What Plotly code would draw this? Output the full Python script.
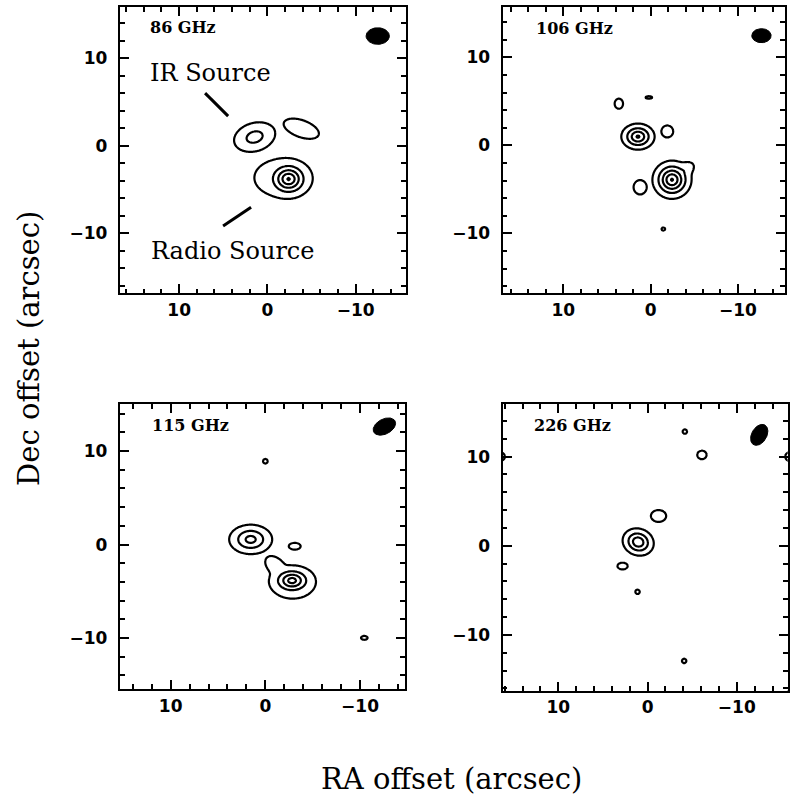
import numpy as np
import plotly.graph_objects as go

# ---------------------------------------------------------------------------
# Source models (arcsec offsets from the phase centre).
# Each entry: (peak, RA offset, Dec offset, scale_major, scale_minor, PA deg)
# Contour levels are 1, 2, 3, ... in units of the lowest contour.
# ---------------------------------------------------------------------------
FREQS = ["86 GHz", "106 GHz", "115 GHz", "226 GHz"]

SOURCES_86 = [
    (2.50, 1.45, 1.00, 1.59, 1.07, -17),    # IR source
    (1.70, -3.85, 1.95, 2.00, 0.93, 20),    # western knot
    (5.10, -2.40, -3.80, 1.09, 0.95, 0),    # radio source core
    (1.70, -1.70, -3.66, 3.05, 2.05, 0),    # radio source envelope
]
SOURCES_106 = [
    (1.70, 3.64, 4.74, 0.46, 0.55, 0),
    (1.30, 0.20, 5.45, 0.58, 0.22, 0),
    (4.15, 1.45, 1.00, 0.95, 0.74, 0),      # IR source
    (1.70, -1.91, 1.59, 0.65, 0.65, 0),
    (5.10, -2.45, -3.90, 1.02, 0.99, 0),    # radio source core
    (1.70, -3.95, -2.75, 1.05, 0.68, 147),  # radio source extension
    (1.70, 1.20, -4.75, 0.72, 0.78, 0),
    (1.20, -1.46, -9.50, 0.40, 0.34, 0),
]
SOURCES_115 = [
    (1.20, 0.00, 8.91, 0.48, 0.48, 0),
    (3.45, 1.55, 0.55, 1.24, 0.86, 0),      # IR source
    (1.70, -3.10, -0.18, 0.60, 0.35, 0),
    (4.50, -2.82, -3.85, 1.04, 0.70, 0),    # radio source core
    (1.70, -2.90, -4.10, 2.20, 1.60, 0),    # radio source envelope
    (1.70, -1.00, -2.20, 1.10, 0.75, 42),   # north-east lobe
    (1.30, -10.45, -9.98, 0.53, 0.32, 0),
]
SOURCES_226 = [
    (1.20, -4.18, 12.81, 0.48, 0.48, 0),
    (1.70, -6.09, 10.19, 0.50, 0.46, 0),
    (1.70, -1.23, 3.34, 0.82, 0.64, 0),
    (3.90, 1.05, 0.42, 0.91, 0.77, 20),     # IR source
    (1.70, 2.80, -2.28, 0.55, 0.36, 0),
    (1.20, 1.12, -5.17, 0.48, 0.48, 0),
    (1.20, -4.10, -12.92, 0.48, 0.48, 0),
    (1.70, 16.50, 10.00, 0.50, 0.45, 0),
    (1.70, -16.00, 10.00, 0.55, 0.50, 0),
    (1.70, -16.50, -16.90, 0.90, 0.90, 0),
]
SOURCES = [SOURCES_86, SOURCES_106, SOURCES_115, SOURCES_226]

# Synthesised beams: centre, semi-major, semi-minor (arcsec), PA (deg)
BEAM_X = [-12.50, -12.70, -12.57, -12.51]
BEAM_Y = [12.54, 12.47, 12.62, 12.44]
BEAM_MAJ = [1.32, 1.11, 1.27, 1.27]
BEAM_MIN = [0.95, 0.80, 0.80, 0.84]
BEAM_PA = [0, 0, 152, 120]

# Panel geometry (paper fractions) and axis ranges (arcsec)
X_DOMAINS = [[0.1519, 0.5139], [0.6363, 0.9937], [0.1519, 0.5127], [0.6363, 0.9971]]
Y_DOMAINS = [[0.6325, 0.9909], [0.6325, 0.9909], [0.1366, 0.4937], [0.1345, 0.4937]]
X_RANGES = [[16.7, -15.7], [16.95, -15.4], [15.35, -14.75], [16.23, -15.7]]
Y_RANGES = [[-16.86, 15.83], [-16.8, 15.7], [-15.45, 15.03], [-16.26, 15.9]]
LABEL_POS = [(13.5, 13.5), (13.38, 13.26), (12.14, 12.73), (12.89, 13.45)]

# Annotated sources in the 86 GHz panel
NOTE_TEXT = ["IR Source", "Radio Source"]
NOTE_POS = [(13.5, 8.31), (13.4, -12.03)]
POINTER_X0 = [7.06, 5.02]
POINTER_Y0 = [6.02, -9.18]
POINTER_X1 = [4.45, 1.85]
POINTER_Y1 = [3.39, -7.03]

LEVELS = dict(start=1, end=5, size=1)
GRID = np.arange(-18.0, 18.0001, 0.1)
PROFILE_INDEX = 1.5   # radial fall-off exponent of each component


def sky_map(sources, xs, ys, p=4.0, q=PROFILE_INDEX):
    X, Y = np.meshgrid(xs, ys)
    acc = np.zeros_like(X)
    for amp, x0, y0, smaj, smin, pa in sources:
        t = np.radians(pa)
        dx, dy = X - x0, Y - y0
        u = dx * np.cos(t) + dy * np.sin(t)
        v = -dx * np.sin(t) + dy * np.cos(t)
        r = np.sqrt((u / smaj) ** 2 + (v / smin) ** 2)
        g = amp * np.exp(-0.5 * r ** q)
        acc += g ** p
    return acc ** (1.0 / p)


def beam_outline(x0, y0, a, b, pa, n=90):
    t = np.linspace(0, 2 * np.pi, n)
    c, s = np.cos(np.radians(pa)), np.sin(np.radians(pa))
    x = x0 + a * np.cos(t) * c - b * np.sin(t) * s
    y = y0 + a * np.cos(t) * s + b * np.sin(t) * c
    return x, y


fig = go.Figure()

for i in range(4):
    suffix = "" if i == 0 else str(i + 1)
    xa, ya = "x" + suffix, "y" + suffix
    z = sky_map(SOURCES[i], GRID, GRID).astype(np.float32)
    fig.add_trace(go.Contour(
        x=GRID, y=GRID, z=z, xaxis=xa, yaxis=ya,
        contours=dict(coloring="lines", **LEVELS),
        colorscale=[[0, "black"], [1, "black"]],
        showscale=False, line=dict(width=2.2, smoothing=1.0),
        hoverinfo="skip",
    ))
    bx, by = beam_outline(BEAM_X[i], BEAM_Y[i], BEAM_MAJ[i], BEAM_MIN[i], BEAM_PA[i])
    fig.add_trace(go.Scatter(
        x=bx, y=by, xaxis=xa, yaxis=ya, mode="lines", fill="toself",
        fillcolor="black", line=dict(color="black", width=1),
        hoverinfo="skip", showlegend=False,
    ))

    common = dict(
        showline=True, linewidth=2.3, linecolor="black", mirror="allticks",
        ticks="inside", ticklen=9, tickwidth=2, tickcolor="black",
        tick0=0, dtick=10, showgrid=False, zeroline=False,
        minor=dict(ticks="inside", tick0=0, dtick=2, ticklen=4.5,
                   tickwidth=2, tickcolor="black", showgrid=False),
        tickfont=dict(family="DejaVu Sans", size=17, color="black", weight="bold"),
    )
    fig.layout["xaxis" + suffix] = dict(common, domain=X_DOMAINS[i], range=X_RANGES[i],
                                        anchor=ya, ticklabelstandoff=0)
    fig.layout["yaxis" + suffix] = dict(common, domain=Y_DOMAINS[i], range=Y_RANGES[i],
                                        anchor=xa, ticklabelstandoff=7)

    fig.add_annotation(
        x=LABEL_POS[i][0], y=LABEL_POS[i][1], xref=xa, yref=ya,
        text=FREQS[i], showarrow=False, xanchor="left", yanchor="middle",
        font=dict(family="DejaVu Serif", size=16, color="black", weight="bold"),
    )

for txt, (tx, ty) in zip(NOTE_TEXT, NOTE_POS):
    fig.add_annotation(
        x=tx, y=ty, xref="x", yref="y", text=txt, showarrow=False,
        xanchor="left", yanchor="middle",
        font=dict(family="DejaVu Serif", size=24, color="black"),
    )
for x0, y0, x1, y1 in zip(POINTER_X0, POINTER_Y0, POINTER_X1, POINTER_Y1):
    fig.add_shape(type="line", x0=x0, y0=y0, x1=x1, y1=y1, xref="x", yref="y",
                  line=dict(color="black", width=3))

fig.add_annotation(
    x=0.572, y=0.0238, xref="paper", yref="paper", text="RA offset (arcsec)",
    showarrow=False, xanchor="center", yanchor="middle",
    font=dict(family="DejaVu Serif", size=29, color="black"),
)
fig.add_annotation(
    x=0.0367, y=0.564, xref="paper", yref="paper", text="Dec offset (arcsec)",
    showarrow=False, xanchor="center", yanchor="middle", textangle=-90,
    font=dict(family="DejaVu Serif", size=29, color="black"),
)

fig.update_layout(
    width=790, height=798, margin=dict(l=0, r=0, t=0, b=0),
    paper_bgcolor="white", plot_bgcolor="white", showlegend=False,
)

fig.write_html("out.html")
